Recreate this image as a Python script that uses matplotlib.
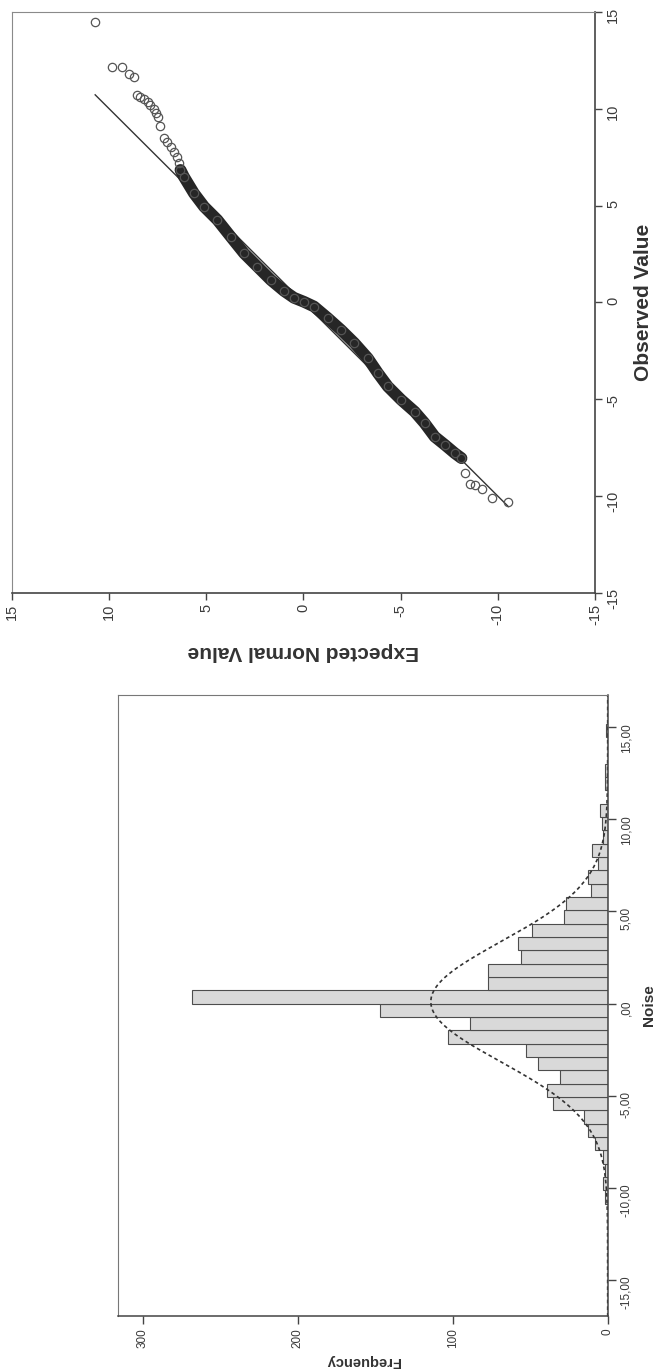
import matplotlib
matplotlib.use("Agg")
import matplotlib.pyplot as plt
import numpy as np

plt.rcParams['font.family'] = ['Liberation Sans', 'DejaVu Sans']
plt.rcParams['axes.unicode_minus'] = False

# --- histogram of Noise (SPSS bins, width ~0.72, first bin 15 bins below 0)
bin_width = 0.7237
first_edge = -15 * bin_width
counts = [2, 3, 2, 3, 8, 13, 15, 35, 39, 31, 45, 53, 103, 89, 147,
          268, 77, 77, 56, 58, 49, 28, 27, 11, 13, 6, 10, 3, 4, 5,
          0, 2, 2, 0, 0, 1]
noise_mean = 0.1
noise_sd = 3.25

noise_ticks = [-15, -10, -5, 0, 5, 10, 15]
noise_labels = ['-15,00', '-10,00', '-5,00', ',00', '5,00', '10,00', '15,00']
freq_ticks = [0, 100, 200, 300]

# --- normal Q-Q plot points (expected normal value, observed value)
qq_exp = [-10.54, -9.68, -9.16, -8.82, -8.56, -8.30,
          -8.13, -7.78, -7.27, -6.75, -6.23, -5.72, -5.03, -4.34, -3.83,
          -3.31, -2.62, -1.93, -1.25, -0.54, -0.03, 0.49, 1.01, 1.68, 2.37,
          3.06, 3.75, 4.43, 5.12, 5.64, 6.16,
          6.33, 6.41, 6.50, 6.67, 6.84, 7.01, 7.19, 7.40, 7.48, 7.57, 7.71,
          7.88, 8.01, 8.22, 8.39, 8.56, 8.74, 9.00, 9.34, 9.85, 10.72]
qq_obs = [-10.28, -10.11, -9.64, -9.42, -9.37, -8.82,
          -8.04, -7.78, -7.35, -6.93, -6.23, -5.64, -5.03, -4.34, -3.65,
          -2.88, -2.10, -1.42, -0.81, -0.21, 0.03, 0.24, 0.60, 1.16, 1.85,
          2.54, 3.40, 4.26, 4.95, 5.64, 6.50,
          6.84, 7.19, 7.53, 7.79, 8.05, 8.30, 8.48, 9.11, 9.59, 9.80, 9.98,
          10.20, 10.37, 10.49, 10.63, 10.72, 11.66, 11.80, 12.15, 12.18, 14.50]
qq_ticks = [-15, -10, -5, 0, 5, 10, 15]

fig = plt.figure(figsize=(6.56, 13.71), dpi=100)

# Q-Q plot, drawn turned a quarter: observed goes up, expected goes left
ax1 = fig.add_axes([0.0183, 0.5675, 0.8887, 0.4238])
ex = np.array(qq_exp)
ob = np.array(qq_obs)
dense = (ob > -8.1) & (ob < 6.9)
ax1.plot(ex[dense], ob[dense], color='#262626', lw=8.5,
         solid_capstyle='round', solid_joinstyle='round', zorder=2)
lo, hi = ex.min(), ex.max()
ax1.plot([lo, hi], [lo, hi], color='#333333', lw=1.0, zorder=1)
ax1.plot(ex, ob, 'o', ms=6, mfc='none', mec='#555555', mew=0.9, zorder=3)
ax1.set_xlim(15, -15)
ax1.set_ylim(-15, 15)
ax1.set_xticks(qq_ticks)
ax1.set_yticks(qq_ticks)
ax1.yaxis.tick_right()
ax1.yaxis.set_label_position('right')
ax1.tick_params(direction='out', length=5, width=1, color='#444444',
                labelsize=10.5, labelcolor='#3a3a3a', labelrotation=90, pad=3)
for s in ['left', 'top']:
    ax1.spines[s].set_color('#8a8a8a')
for s in ['right', 'bottom']:
    ax1.spines[s].set_color('#444444')
    ax1.spines[s].set_linewidth(1.2)
ax1.set_ylabel('Observed Value', fontsize=15, fontweight='bold',
               color='#333333', labelpad=10)
ax1.set_xlabel('Expected Normal Value', fontsize=15, fontweight='bold',
               color='#333333', rotation=180, labelpad=12)

# histogram, turned the same way: noise goes up, frequency goes left
ax2 = fig.add_axes([0.1799, 0.0403, 0.7465, 0.4527])
starts = first_edge + np.arange(len(counts)) * bin_width
ax2.barh(starts, counts, height=bin_width, align='edge',
         color='#d9d9d9', edgecolor='#4d4d4d', lw=0.8)
n = sum(counts)
yy = np.linspace(-17, 17, 500)
curve = n * bin_width / (noise_sd * np.sqrt(2 * np.pi)) * \
    np.exp(-(yy - noise_mean) ** 2 / (2 * noise_sd ** 2))
ax2.plot(curve, yy, color='#333333', lw=1.2, ls=(0, (2.2, 1.8)))
ax2.set_xlim(316, 0)
ax2.set_ylim(-16.95, 16.75)
ax2.set_yticks(noise_ticks, noise_labels)
ax2.set_xticks(freq_ticks)
ax2.yaxis.tick_right()
ax2.yaxis.set_label_position('right')
ax2.tick_params(direction='out', length=6, width=1, color='#444444',
                labelsize=8.5, labelcolor='#3a3a3a', labelrotation=90, pad=3)
for s in ['left', 'top']:
    ax2.spines[s].set_color('#777777')
for s in ['right', 'bottom']:
    ax2.spines[s].set_color('#444444')
    ax2.spines[s].set_linewidth(1.1)
ax2.set_ylabel('Noise', fontsize=11, fontweight='bold', color='#333333',
               labelpad=7)
ax2.set_xlabel('Frequency', fontsize=10.5, fontweight='bold',
               color='#333333', rotation=180, labelpad=4)

fig.savefig('out.png', dpi=100)
